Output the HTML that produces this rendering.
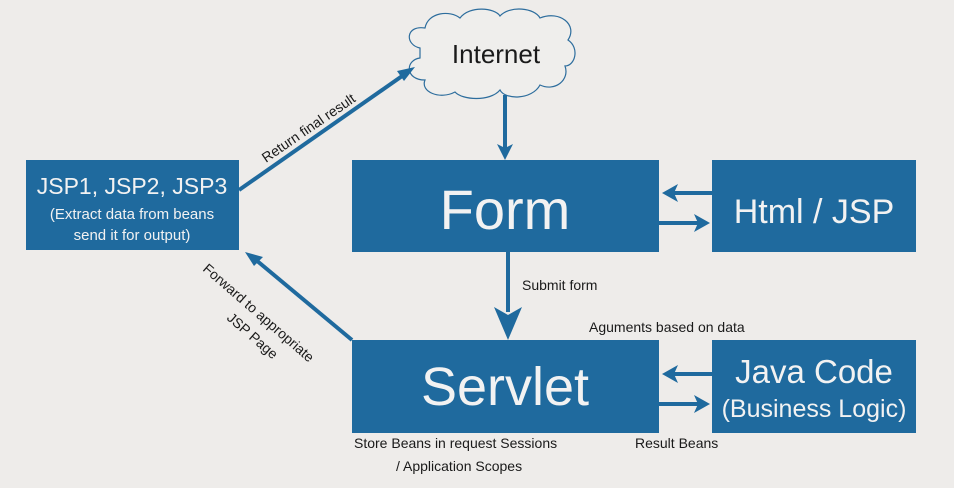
<!DOCTYPE html>
<html><head><meta charset="utf-8"><style>
html,body{margin:0;padding:0;background:#eeecea;}
svg{display:block;font-family:"Liberation Sans",sans-serif;}
</style></head><body>
<svg width="954" height="488" viewBox="0 0 954 488" xmlns="http://www.w3.org/2000/svg">
<rect width="954" height="488" fill="#eeecea"/>
<path d="M420,48 C405,45 405,25 425,28 C428,12 450,10 460,18 C470,5 495,8 500,16 C510,5 535,8 540,18 C560,10 578,25 568,40 C580,48 575,66 565,66 C570,80 555,92 540,85 C532,100 505,100 500,90 C490,102 462,100 455,92 C440,100 420,92 425,80 C405,80 405,60 420,58 Z" fill="#efeeec" stroke="#2d6d9d" stroke-width="1.2"/>
<text x="496" y="63" font-size="26" text-anchor="middle" fill="#1a1a1a">Internet</text>
<g fill="#1f6a9e">
<rect x="26" y="160" width="213" height="90"/>
<rect x="352" y="160" width="307" height="92"/>
<rect x="712" y="160" width="204" height="92"/>
<rect x="352" y="340" width="307" height="93"/>
<rect x="712" y="340" width="204" height="93"/>
</g>
<g fill="#f2f2f2" text-anchor="middle">
<text x="132" y="194" font-size="23">JSP1, JSP2, JSP3</text>
<text x="132" y="219" font-size="15">(Extract data from beans</text>
<text x="132" y="240" font-size="15">send it for output)</text>
<text x="505" y="229" font-size="56">Form</text>
<text x="814" y="223" font-size="34">Html / JSP</text>
<text x="505" y="405" font-size="54">Servlet</text>
<text x="814" y="383" font-size="33">Java Code</text>
<text x="814" y="417" font-size="25">(Business Logic)</text>
</g>
<g stroke="#1f6a9e" stroke-width="4" fill="none">
<line x1="239" y1="190" x2="405" y2="74"/>
<line x1="505" y1="95" x2="505" y2="148"/>
<line x1="508" y1="252" x2="508" y2="312"/>
<line x1="352" y1="340" x2="256" y2="260"/>
<line x1="712" y1="193" x2="672" y2="193"/>
<line x1="659" y1="223" x2="700" y2="223"/>
<line x1="712" y1="374" x2="672" y2="374"/>
<line x1="659" y1="404" x2="700" y2="404"/>
</g>
<g fill="#1f6a9e">
<polygon points="415,67 397,71 404,81"/>
<polygon points="505,160 497,144 505,148 513,144"/>
<polygon points="508,340 494,307 508,315 522,307"/>
<polygon points="245,252 263,257 254,266"/>
<polygon points="662,193 678,184 674,193 678,202"/>
<polygon points="710,223 694,214 698,223 694,232"/>
<polygon points="662,374 678,365 674,374 678,383"/>
<polygon points="710,404 694,395 698,404 694,413"/>
</g>
<g fill="#1a1a1a" font-size="14">
<text transform="translate(266,163) rotate(-34.5)">Return final result</text>
<text transform="translate(202,270) rotate(41)">Forward to appropriate</text>
<text transform="translate(226,319) rotate(41)">JSP Page</text>
<text x="522" y="290">Submit form</text>
<text x="589" y="332">Aguments based on data</text>
<text x="354" y="448">Store Beans in request Sessions</text>
<text x="396" y="471">/ Application Scopes</text>
<text x="635" y="448">Result Beans</text>
</g>
</svg>
</body></html>
